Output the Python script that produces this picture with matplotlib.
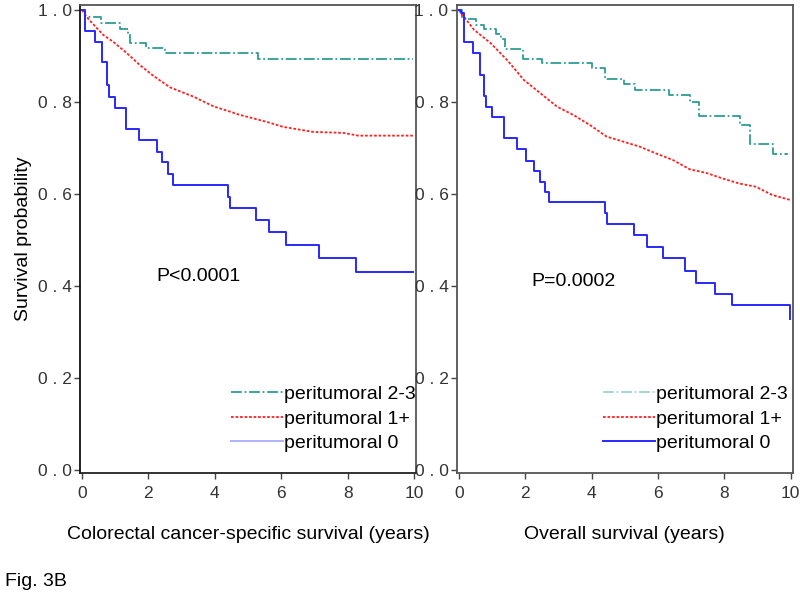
import matplotlib
matplotlib.use("Agg")
import matplotlib.pyplot as plt
from matplotlib.lines import Line2D

# Colorectal cancer-specific survival (left panel), step points (years, probability)
css_t0 = [0, 0.09, 0.39, 0.59, 0.76, 0.82, 0.99, 1.33, 1.73, 2.25, 2.40, 2.58, 2.73,
          4.41, 4.46, 5.24, 5.64, 6.14, 7.15, 8.25, 9.98]
css_s0 = [1.0, 0.954, 0.931, 0.886, 0.837, 0.812, 0.788, 0.741, 0.717, 0.692, 0.669, 0.643, 0.620,
          0.594, 0.569, 0.543, 0.517, 0.489, 0.462, 0.430, 0.430]
css_t1 = [0, 0.14, 0.34, 0.64, 0.94, 1.34, 1.75, 2.15, 2.65, 3.35, 3.95, 4.76, 5.56,
          6.06, 6.97, 7.87, 8.32, 9.98]
css_s1 = [1.0, 0.985, 0.969, 0.946, 0.931, 0.907, 0.880, 0.857, 0.832, 0.812, 0.791, 0.772, 0.757,
          0.746, 0.735, 0.733, 0.727, 0.727]
css_t23 = [0, 0.09, 0.57, 1.14, 1.40, 1.45, 1.93, 2.51, 5.31, 9.98]
css_s23 = [1.0, 0.984, 0.971, 0.958, 0.947, 0.929, 0.917, 0.907, 0.893, 0.893]

# Overall survival (right panel)
os_t0 = [0, 0.08, 0.16, 0.43, 0.63, 0.76, 0.81, 1.01, 1.36, 1.76, 2.03, 2.28, 2.44, 2.60, 2.73,
         4.40, 4.47, 5.27, 5.67, 6.15, 6.82, 7.15, 7.72, 8.22, 9.99]
os_s0 = [1.0, 0.993, 0.931, 0.907, 0.859, 0.813, 0.790, 0.768, 0.721, 0.697, 0.672, 0.651, 0.627,
         0.605, 0.582, 0.558, 0.535, 0.511, 0.485, 0.460, 0.433, 0.407, 0.383, 0.359, 0.328]
os_t1 = [0, 0.16, 0.46, 0.96, 1.46, 1.96, 2.46, 2.96, 3.45, 3.95, 4.45, 4.95, 5.45, 5.95,
         6.45, 6.95, 7.45, 7.94, 8.44, 8.94, 9.44, 9.99]
os_s1 = [1.0, 0.985, 0.957, 0.928, 0.891, 0.848, 0.819, 0.790, 0.772, 0.750, 0.725, 0.714, 0.703,
         0.688, 0.674, 0.654, 0.646, 0.634, 0.623, 0.616, 0.598, 0.587]
os_t23 = [0, 0.11, 0.51, 0.75, 1.11, 1.26, 1.39, 1.94, 2.51, 4.00, 4.40, 4.98, 5.30, 6.32,
          6.97, 7.22, 8.47, 8.77, 9.46, 9.92]
os_s23 = [1.0, 0.98, 0.967, 0.958, 0.949, 0.937, 0.915, 0.893, 0.884, 0.873, 0.850, 0.839, 0.826,
          0.815, 0.801, 0.770, 0.750, 0.709, 0.687, 0.687]

labels = ["peritumoral 2-3", "peritumoral 1+", "peritumoral 0"]
xticks = [0, 2, 4, 6, 8, 10]
yticks = [0.0, 0.2, 0.4, 0.6, 0.8, 1.0]
ytick_labels = ["0 . 0", "0 . 2", "0 . 4", "0 . 6", "0 . 8", "1 . 0"]

teal = "#2f9c94"
red = "#ff2020"
blue = "#2828ff"
dashdot = (0, (6, 1.5, 1, 1.5))
dotted = (0, (1.5, 1))

plt.rcParams['font.family'] = ['Liberation Sans', 'DejaVu Sans']

fig = plt.figure(figsize=(8, 5.95), dpi=100)
ax1 = fig.add_axes([0.1, 0.205, 0.42, 0.7866])
ax2 = fig.add_axes([0.571, 0.205, 0.42, 0.7866])


def setup(ax):
    ax.set_xlim(-0.06, 10.06)
    ax.set_ylim(-0.0065, 1.011)
    ax.set_xticks(xticks)
    ax.set_xticklabels([str(v) for v in xticks], fontsize=12.5, color='#333333')
    ax.set_yticks(yticks)
    ax.set_yticklabels(ytick_labels, fontsize=12.5, color='#333333')
    ax.tick_params(direction='out', length=4, width=1, color='#444444')
    ax.tick_params(axis='x', pad=5)
    ax.tick_params(axis='y', pad=2)
    for s in ax.spines.values():
        s.set_color('#555555')
        s.set_linewidth(1.3)


# left panel
ax1.step(css_t23, css_s23, where='post', color=teal, lw=1.3, ls=dashdot)
ax1.plot(css_t1, css_s1, color=red, lw=1.3, ls=dotted)
ax1.step(css_t0, css_s0, where='post', color=blue, lw=1.4)
setup(ax1)
ax1.spines['left'].set_color('#111111')
ax1.spines['bottom'].set_color('#222222')
ax1.set_ylabel("Survival probability", fontsize=14, labelpad=4)
ax1.set_xlabel("Colorectal cancer-specific survival (years)", fontsize=14, labelpad=18)
ax1.text(3.5, 0.42, "P<0.0001", fontsize=14, ha='center', va='center')

# right panel
ax2.step(os_t23, os_s23, where='post', color=teal, lw=1.3, ls=dashdot)
ax2.plot(os_t1, os_s1, color=red, lw=1.3, ls=dotted)
ax2.step(os_t0, os_s0, where='post', color=blue, lw=1.4)
setup(ax2)
ax2.set_xlabel("Overall survival (years)", fontsize=14, labelpad=18)
ax2.text(3.45, 0.41, "P=0.0002", fontsize=14, ha='center', va='center')

# legends (line colours as they appear in the figure)
h_left = [Line2D([], [], color=teal, lw=1.3, ls=dashdot),
          Line2D([], [], color=red, lw=1.3, ls=dotted),
          Line2D([], [], color='#b0b0ff', lw=1.4)]
h_right = [Line2D([], [], color='#9fd3d0', lw=1.3, ls=dashdot),
           Line2D([], [], color=red, lw=1.3, ls=dotted),
           Line2D([], [], color=blue, lw=1.4)]
for ax, h, xa in [(ax1, h_left, 1.0), (ax2, h_right, 0.985)]:
    ax.legend(h, labels, loc='lower right', bbox_to_anchor=(xa, 0.045), frameon=False,
              fontsize=14, handlelength=2.7, handletextpad=0.05, labelspacing=0.35,
              borderpad=0, borderaxespad=0)

fig.text(0.006, 0.022, "Fig. 3B", fontsize=14, ha='left', va='center')

fig.savefig("out.png", dpi=100)
